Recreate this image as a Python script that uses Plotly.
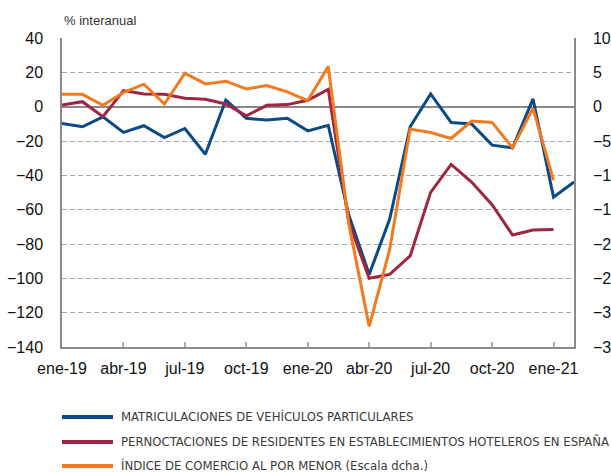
import plotly.graph_objects as go

# Monthly series, January 2019 to February 2021
months = [
    "ene-19", "feb-19", "mar-19", "abr-19", "may-19", "jun-19", "jul-19", "ago-19",
    "sep-19", "oct-19", "nov-19", "dic-19", "ene-20", "feb-20", "mar-20", "abr-20",
    "may-20", "jun-20", "jul-20", "ago-20", "sep-20", "oct-20", "nov-20", "dic-20",
    "ene-21", "feb-21",
]
tick_labels = ["ene-19", "abr-19", "jul-19", "oct-19", "ene-20", "abr-20", "jul-20", "oct-20", "ene-21"]

# Year-on-year % change
matriculaciones = [
    -9.8, -11.7, -5.9, -15.0, -11.1, -18.0, -12.7, -27.7, 3.9, -6.8, -7.8, -6.8, -14.1,
    -10.9, -63.0, -97.7, -65.5, -11.7, 7.4, -9.2, -10.1, -22.4, -24.0, 4.5, -52.7, -43.9,
]
pernoctaciones = [
    1.0, 2.9, -5.9, 9.4, 7.4, 7.2, 4.9, 4.3, 1.6, -5.3, 0.8, 1.2, 3.7,
    10.1, -67.0, -100.0, -97.7, -86.9, -49.9, -33.6, -43.9, -57.1, -74.8, -71.9, -71.5,
]
# Retail trade index (right-hand scale)
comercio = [
    1.8, 1.8, 0.2, 2.05, 3.27, 0.39, 4.88, 3.32, 3.71, 2.59, 3.07, 2.15, 0.88,
    5.85, -17.0, -32.0, -20.8, -3.27, -3.76, -4.63, -2.10, -2.29, -6.0, -0.24, -10.7,
]

names = [
    "MATRICULACIONES DE VEHÍCULOS PARTICULARES",
    "PERNOCTACIONES DE RESIDENTES EN ESTABLECIMIENTOS HOTELEROS EN ESPAÑA",
    "ÍNDICE DE COMERCIO AL POR MENOR (Escala dcha.)",
]
colors = ["#0b4a86", "#9e2640", "#f47a20"]

fig = go.Figure()
fig.add_trace(go.Scatter(x=months[:len(matriculaciones)], y=matriculaciones, name=names[0],
                         mode="lines", line=dict(color=colors[0], width=3)))
fig.add_trace(go.Scatter(x=months[:len(pernoctaciones)], y=pernoctaciones, name=names[1],
                         mode="lines", line=dict(color=colors[1], width=3)))
fig.add_trace(go.Scatter(x=months[:len(comercio)], y=comercio, name=names[2], yaxis="y2",
                         mode="lines", line=dict(color=colors[2], width=3)))

axis_gray = "#8a8a8a"
tick_font = dict(family="Liberation Sans, Arial, sans-serif", size=16, color="#111111")

# Key below the chart: a coloured stroke and a caption per series
key_rows = [-0.2265, -0.3074, -0.3851]
key_shapes = []
key_notes = []
for name, color, ky in zip(names, colors, key_rows):
    key_shapes.append(dict(type="line", xref="paper", yref="paper", x0=0.0, x1=0.0996,
                           y0=ky, y1=ky, line=dict(color=color, width=4)))
    key_notes.append(dict(text=name, xref="paper", yref="paper", x=0.1113, y=ky,
                          xanchor="left", yanchor="middle", showarrow=False,
                          font=dict(family="Liberation Sans Narrow, DejaVu Sans Condensed, sans-serif",
                                    size=13, color="#3a3a3a")))

fig.update_layout(
    width=611, height=472,
    margin=dict(l=62, r=37, t=38, b=125),
    paper_bgcolor="white", plot_bgcolor="white",
    font=dict(family="Liberation Sans, Arial, sans-serif"),
    showlegend=False,
    xaxis=dict(
        type="category", categoryorder="array", categoryarray=months,
        range=[0, 25], tickmode="array", tickvals=tick_labels, ticktext=tick_labels,
        ticks="inside", ticklen=5, tickcolor="#b0b0b0", tickwidth=1.5,
        showline=True, linecolor=axis_gray, linewidth=1.5, showgrid=False,
        tickfont=tick_font, ticklabelstandoff=6, tickangle=0, automargin=False,
    ),
    yaxis=dict(
        range=[-140, 40], dtick=20, tick0=0, showline=True, linecolor=axis_gray, linewidth=1.5,
        showgrid=True, gridcolor="#a8a8a8", griddash="5px,3px", gridwidth=1,
        zeroline=True, zerolinecolor="#8a8a8a", zerolinewidth=1.5,
        ticks="", tickfont=tick_font, ticklabelstandoff=14, automargin=False,
    ),
    yaxis2=dict(
        range=[-35, 10], dtick=5, tick0=0, overlaying="y", side="right",
        showline=True, linecolor=axis_gray, linewidth=1.5, showgrid=False, zeroline=False,
        ticks="", tickfont=tick_font, ticklabelstandoff=14, automargin=False,
    ),
    shapes=key_shapes,
    annotations=[dict(
        text="% interanual", xref="paper", yref="paper", x=0, y=1, xanchor="left", yanchor="bottom",
        yshift=8, showarrow=False, font=dict(size=13, color="#333333"),
    )] + key_notes,
)

fig.write_html("out.html")
